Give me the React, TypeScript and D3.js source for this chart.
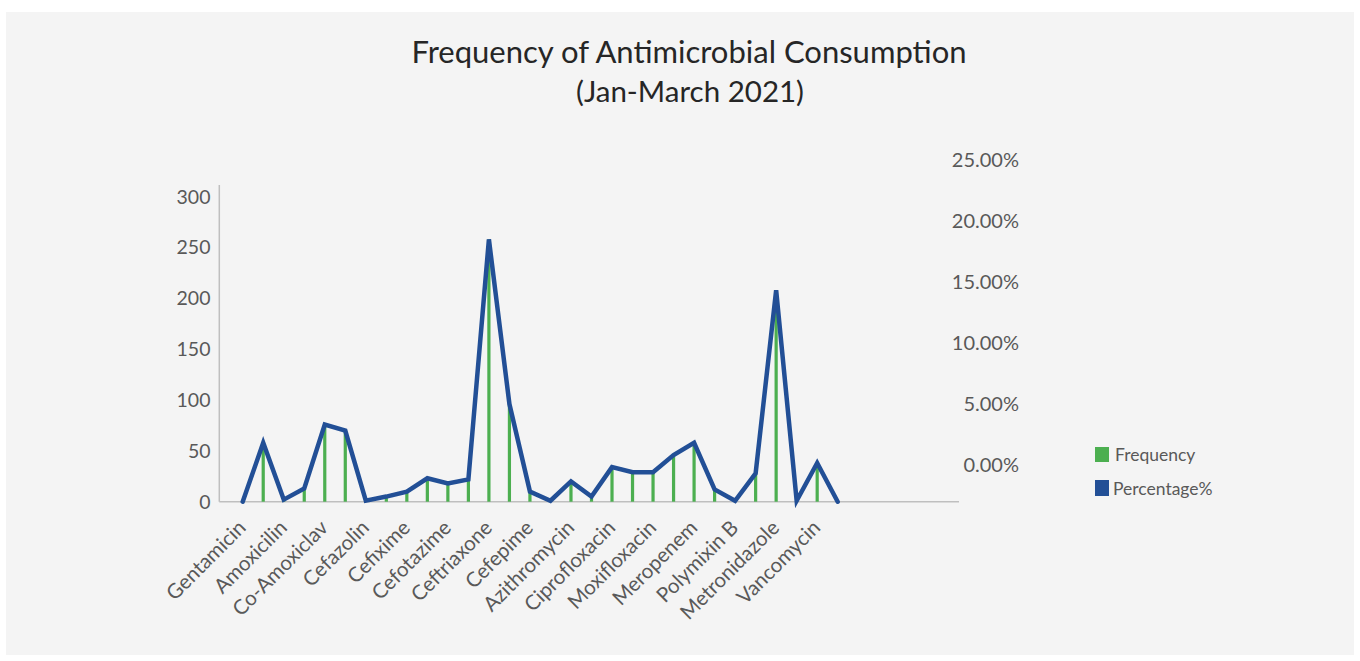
import React from "react";
import * as d3 from "d3";

// Shown category labels (every other category is labelled on the axis)
const labels = [
  "Gentamicin", "Amoxicilin", "Co-Amoxiclav", "Cefazolin", "Cefixime",
  "Cefotazime", "Ceftriaxone", "Cefepime", "Azithromycin", "Ciprofloxacin",
  "Moxifloxacin", "Meropenem", "Polymixin B", "Metronidazole", "Vancomycin",
];

// Frequency per category slot (30 slots)
const frequency = [
  0, 58, 2, 13, 76, 70, 1, 5, 10, 23, 18, 22, 258, 96, 10,
  1, 20, 5, 34, 29, 29, 46, 58, 12, 1, 28, 208, 1, 38, 0,
];

// Percentage per category slot (fraction)
const percentage = [
  0.0, 0.0483, 0.0017, 0.0108, 0.0633, 0.0583, 0.0008, 0.0042, 0.0083, 0.0192,
  0.015, 0.0183, 0.215, 0.08, 0.0083, 0.0008, 0.0167, 0.0042, 0.0283, 0.0242,
  0.0242, 0.0383, 0.0483, 0.01, 0.0008, 0.0233, 0.1733, 0.0008, 0.0317, 0.0,
];

const leftTicks = [0, 50, 100, 150, 200, 250, 300];
const rightTicks = [0, 0.05, 0.1, 0.15, 0.2, 0.25];

const titleLines = ["Frequency of Antimicrobial Consumption", "(Jan-March 2021)"];
const legendItems = ["Frequency", "Percentage%"];

const W = 1360;
const H = 661;
const GREEN = "#4caf50";
const BLUE = "#224f96";
const TEXT = "#595959";
const FONT = "Lato, 'Open Sans', sans-serif";

export default function App() {
  const idx = d3.range(frequency.length);
  const x = d3.scalePoint<number>().domain(idx).range([242.7, 837.7]);
  const yL = d3.scaleLinear().domain([0, 300]).range([501.7, 196.7]);
  const yR = d3.scaleLinear().domain([0, 0.25]).range([501.7, 196.7]);
  const pct = d3.format(".2%");

  const line = d3
    .line<number>()
    .x((_, i) => x(i) as number)
    .y((d) => yR(d));

  const axisLeftX = 219.3;
  const axisRightEnd = 959;
  const rightLabelShift = -36.7;

  return (
    <svg
      width={W}
      height={H}
      style={{ position: "absolute", left: 0, top: 0, display: "block" }}
      fontFamily={FONT}
    >
      <rect x={0} y={0} width={W} height={H} fill="#ffffff" />
      <rect x={6} y={12} width={1348} height={643} fill="#f4f4f4" />

      {/* Title */}
      <text x={689} y={63} textAnchor="middle" fontSize={31} fill="#262626">
        {titleLines[0]}
      </text>
      <text x={690} y={102} textAnchor="middle" fontSize={29.5} fill="#262626">
        {titleLines[1]}
      </text>

      {/* Axes lines */}
      <line x1={axisLeftX} x2={axisLeftX} y1={185} y2={yL(0)} stroke="#bfbfbf" strokeWidth={1.5} />
      <line x1={axisLeftX} x2={axisRightEnd} y1={yL(0)} y2={yL(0)} stroke="#bfbfbf" strokeWidth={1.5} />

      {/* Left ticks */}
      {leftTicks.map((t) => (
        <text key={t} x={210.5} y={yL(t)} dy="0.35em" textAnchor="end" fontSize={19.5} fill={TEXT}>
          {t}
        </text>
      ))}

      {/* Right ticks */}
      <g transform={`translate(0,${rightLabelShift})`}>
        {rightTicks.map((t) => (
          <text key={t} x={1019} y={yR(t)} dy="0.35em" textAnchor="end" fontSize={20} fill={TEXT}>
            {pct(t)}
          </text>
        ))}
      </g>

      {/* Frequency bars */}
      {frequency.map((f, i) => (
        <rect
          key={i}
          x={(x(i) as number) - 1.6}
          y={yL(f)}
          width={3.2}
          height={yL(0) - yL(f)}
          fill={GREEN}
        />
      ))}

      {/* Percentage line */}
      <path d={line(percentage) || ""} fill="none" stroke={BLUE} strokeWidth={4.5} strokeLinejoin="miter" strokeLinecap="round" />

      {/* X labels */}
      {labels.map((l, k) => {
        const px = (x(k * 2) as number) + 4.5;
        return (
          <text
            key={l}
            transform={`translate(${px},529) rotate(-45)`}
            textAnchor="end"
            fontSize={20.5}
            fill={TEXT}
          >
            {l}
          </text>
        );
      })}

      {/* Legend */}
      <rect x={1095} y={447} width={14} height={15} fill={GREEN} />
      <text x={1115} y={455} dy="0.35em" fontSize={17.5} fill={TEXT}>
        {legendItems[0]}
      </text>
      <rect x={1095} y={480} width={14} height={16} fill={BLUE} />
      <text x={1113} y={489} dy="0.35em" fontSize={17.5} fill={TEXT}>
        {legendItems[1]}
      </text>
    </svg>
  );
}
